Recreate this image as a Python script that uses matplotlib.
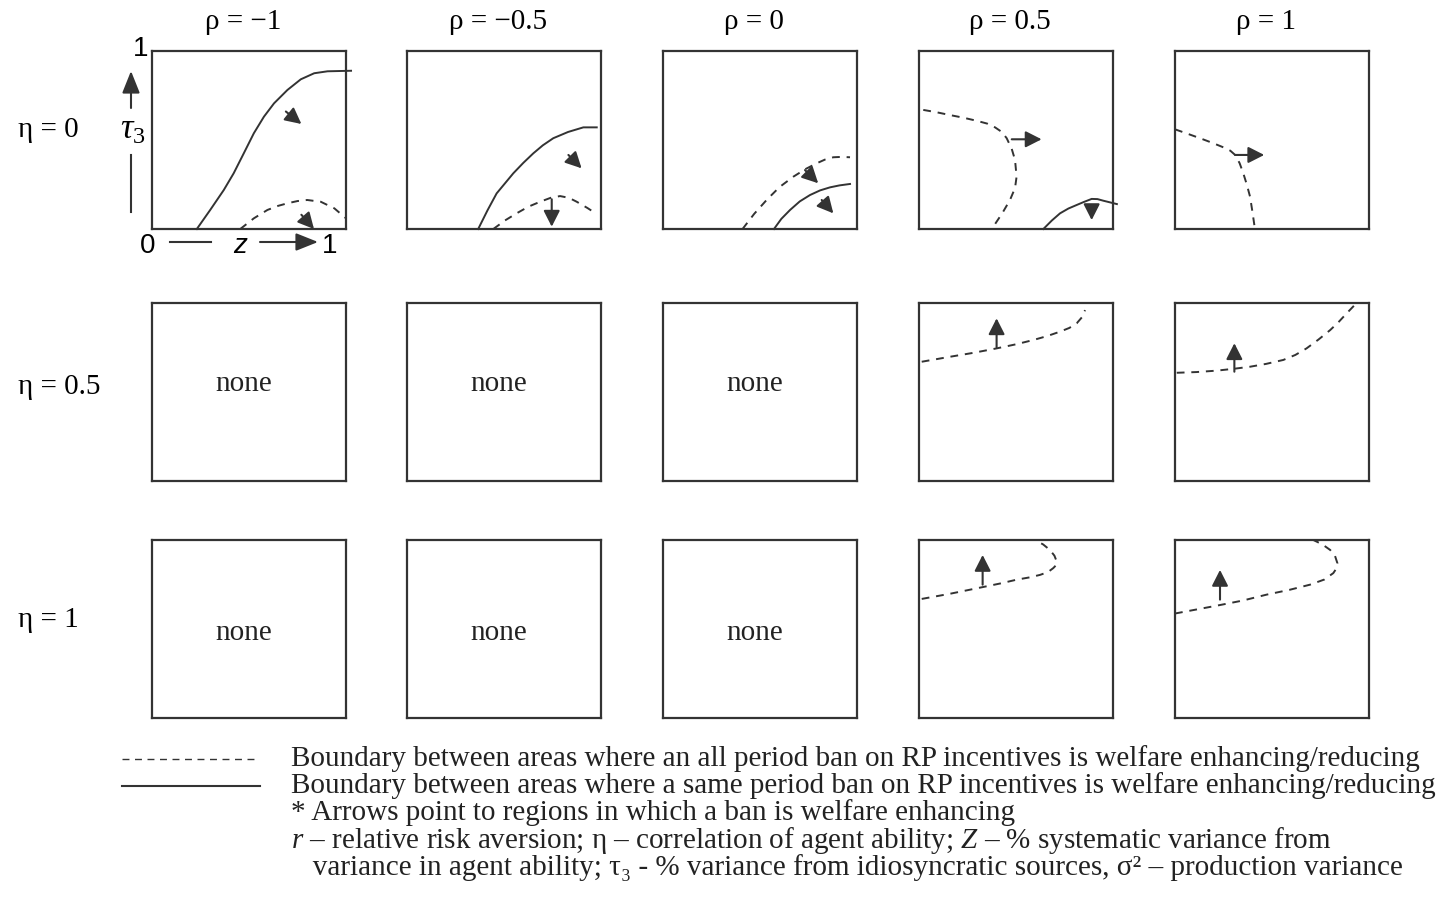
import matplotlib
matplotlib.use('Agg')
import matplotlib.pyplot as plt
from matplotlib.patches import FancyArrowPatch

plt.rcParams['font.family'] = ['Liberation Serif', 'DejaVu Serif']
plt.rcParams['mathtext.fontset'] = 'custom'
plt.rcParams['mathtext.rm'] = 'Liberation Serif'
plt.rcParams['mathtext.it'] = 'Liberation Serif:italic'

W, H = 1454, 916
INK = '#333333'
FS = 21

# column / row labels
rho_labels = ['ρ = −1', 'ρ = −0.5', 'ρ = 0', 'ρ = 0.5', 'ρ = 1']
eta_labels = ['η = 0', 'η = 0.5', 'η = 1']

# boundaries (z, tau3), both 0..1
# eta = 0
s_e0_r1_z = [0.231, 0.30, 0.37, 0.421, 0.473, 0.525, 0.577, 0.629, 0.698, 0.767, 0.836, 0.905, 1.026]
s_e0_r1_t = [0.0, 0.107, 0.219, 0.313, 0.425, 0.538, 0.631, 0.706, 0.781, 0.841, 0.875, 0.886, 0.889]
d_e0_r1_z = [0.455, 0.525, 0.595, 0.65, 0.70, 0.75, 0.80, 0.87, 0.94, 1.0]
d_e0_r1_t = [0.0, 0.06, 0.107, 0.13, 0.145, 0.157, 0.163, 0.153, 0.116, 0.06]

s_e0_r05_z = [0.367, 0.415, 0.462, 0.548, 0.60, 0.651, 0.70, 0.754, 0.83, 0.909, 0.978]
s_e0_r05_t = [0.0, 0.105, 0.20, 0.313, 0.372, 0.425, 0.47, 0.51, 0.545, 0.571, 0.571]
d_e0_r05_z = [0.445, 0.505, 0.565, 0.625, 0.686, 0.74, 0.789, 0.835, 0.875, 0.93, 0.978]
d_e0_r05_t = [0.0, 0.048, 0.088, 0.125, 0.153, 0.175, 0.185, 0.175, 0.153, 0.118, 0.084]

s_e0_r0_z = [0.572, 0.61, 0.655, 0.705, 0.758, 0.81, 0.861, 0.91, 0.964]
s_e0_r0_t = [0.0, 0.057, 0.107, 0.155, 0.191, 0.217, 0.234, 0.245, 0.253]
d_e0_r0_z = [0.41, 0.47, 0.534, 0.60, 0.672, 0.735, 0.792, 0.835, 0.878, 0.92, 0.964]
d_e0_r0_t = [0.0, 0.085, 0.163, 0.235, 0.294, 0.337, 0.369, 0.39, 0.403, 0.405, 0.403]

s_e0_rp05_z = [0.641, 0.685, 0.727, 0.77, 0.813, 0.85, 0.89, 0.92, 0.95, 1.02]
s_e0_rp05_t = [0.0, 0.048, 0.088, 0.115, 0.135, 0.152, 0.169, 0.168, 0.159, 0.14]
d_e0_rp05_z = [0.022, 0.09, 0.16, 0.23, 0.297, 0.352, 0.392, 0.427, 0.452, 0.478, 0.495, 0.503, 0.495, 0.469, 0.43, 0.375]
d_e0_rp05_t = [0.669, 0.656, 0.64, 0.625, 0.608, 0.592, 0.571, 0.545, 0.51, 0.45, 0.388, 0.294, 0.23, 0.163, 0.09, 0.0]

d_e0_rp1_z = [0.0, 0.065, 0.129, 0.19, 0.249, 0.285, 0.31, 0.333, 0.352, 0.37, 0.387, 0.40, 0.412]
d_e0_rp1_t = [0.56, 0.535, 0.51, 0.485, 0.459, 0.44, 0.416, 0.37, 0.313, 0.25, 0.181, 0.09, 0.0]

# eta = 0.5
d_e05_rp05_z = [0.014, 0.16, 0.28, 0.40, 0.50, 0.589, 0.66, 0.727, 0.775, 0.813, 0.84, 0.856]
d_e05_rp05_t = [0.67, 0.698, 0.72, 0.745, 0.768, 0.792, 0.814, 0.839, 0.86, 0.886, 0.92, 0.96]
d_e05_rp1_z = [0.009, 0.11, 0.215, 0.30, 0.387, 0.47, 0.558, 0.62, 0.678, 0.74, 0.80, 0.845, 0.885, 0.936]
d_e05_rp1_t = [0.608, 0.612, 0.62, 0.63, 0.642, 0.658, 0.68, 0.708, 0.745, 0.795, 0.848, 0.895, 0.942, 1.0]

# eta = 1
d_e1_rp05_z = [0.014, 0.16, 0.331, 0.42, 0.503, 0.57, 0.624, 0.665, 0.692, 0.708, 0.71, 0.698, 0.675, 0.64, 0.598]
d_e1_rp05_t = [0.669, 0.698, 0.736, 0.756, 0.777, 0.79, 0.804, 0.82, 0.842, 0.86, 0.879, 0.912, 0.944, 0.975, 1.0]
d_e1_rp1_z = [0.0, 0.215, 0.35, 0.472, 0.59, 0.696, 0.77, 0.816, 0.832, 0.837, 0.825, 0.80, 0.76, 0.713]
d_e1_rp1_t = [0.587, 0.631, 0.66, 0.693, 0.72, 0.749, 0.778, 0.814, 0.84, 0.87, 0.91, 0.944, 0.975, 1.0]

# (row, col, style, z, tau)
curves = [
    (0, 0, '-', s_e0_r1_z, s_e0_r1_t), (0, 0, '--', d_e0_r1_z, d_e0_r1_t),
    (0, 1, '-', s_e0_r05_z, s_e0_r05_t), (0, 1, '--', d_e0_r05_z, d_e0_r05_t),
    (0, 2, '-', s_e0_r0_z, s_e0_r0_t), (0, 2, '--', d_e0_r0_z, d_e0_r0_t),
    (0, 3, '-', s_e0_rp05_z, s_e0_rp05_t), (0, 3, '--', d_e0_rp05_z, d_e0_rp05_t),
    (0, 4, '--', d_e0_rp1_z, d_e0_rp1_t),
    (1, 3, '--', d_e05_rp05_z, d_e05_rp05_t), (1, 4, '--', d_e05_rp1_z, d_e05_rp1_t),
    (2, 3, '--', d_e1_rp05_z, d_e1_rp05_t), (2, 4, '--', d_e1_rp1_z, d_e1_rp1_t),
]

# arrows pointing to welfare-enhancing regions: (row, col, start, end)
arrows = [
    (0, 0, (0.69, 0.66), (0.77, 0.59)), (0, 0, (0.77, 0.08), (0.835, 0.0)),
    (0, 1, (0.832, 0.416), (0.90, 0.341)), (0, 1, (0.746, 0.167), (0.746, 0.013)),
    (0, 2, (0.732, 0.331), (0.80, 0.257)), (0, 2, (0.818, 0.163), (0.878, 0.088)),
    (0, 3, (0.478, 0.504), (0.632, 0.504)), (0, 3, (0.89, 0.135), (0.89, 0.05)),
    (0, 4, (0.309, 0.416), (0.46, 0.416)),
    (1, 3, (0.40, 0.751), (0.40, 0.914)), (1, 4, (0.306, 0.614), (0.306, 0.774)),
    (2, 3, (0.328, 0.749), (0.328, 0.916)), (2, 4, (0.232, 0.665), (0.232, 0.832)),
]

none_panels = [(1, 0), (1, 1), (1, 2), (2, 0), (2, 1), (2, 2)]

legend_lines = [
    'Boundary between areas where an all period ban on RP incentives is welfare enhancing/reducing',
    'Boundary between areas where a same period ban on RP incentives is welfare enhancing/reducing',
    '* Arrows point to regions in which a ban is welfare enhancing',
    '$r$ – relative risk aversion; η – correlation of agent ability; $Z$ – % systematic variance from',
    '   variance in agent ability; τ₃ - % variance from idiosyncratic sources, σ² – production variance',
]

# layout in pixels
col_left = [152, 407, 663, 919, 1175]
row_top = [51, 303, 540]
pw, ph = 194, 178

fig = plt.figure(figsize=(W / 100, H / 100), dpi=100)


def fx(x):
    return x / W


def fy(y):
    return 1 - y / H


axes = {}
for r in range(3):
    for c in range(5):
        ax = fig.add_axes([fx(col_left[c]), fy(row_top[r] + ph), pw / W, ph / H])
        ax.set_xlim(0, 1)
        ax.set_ylim(0, 1)
        ax.set_xticks([])
        ax.set_yticks([])
        for sp in ax.spines.values():
            sp.set_linewidth(1.6)
            sp.set_color(INK)
        axes[(r, c)] = ax

for r, c, ls, z, t in curves:
    ax = axes[(r, c)]
    if ls == '--':
        ax.plot(z, t, color=INK, lw=1.4, linestyle=(0, (4, 3.5)), clip_on=False)
    else:
        ax.plot(z, t, color=INK, lw=1.4, clip_on=False)

for r, c, p0, p1 in arrows:
    axes[(r, c)].annotate('', xy=p1, xytext=p0,
                          arrowprops=dict(arrowstyle='-|>,head_length=0.65,head_width=0.33',
                                          color=INK, lw=1.5, mutation_scale=15,
                                          shrinkA=0, shrinkB=0))

for r, c in none_panels:
    axes[(r, c)].text(0.475, 0.545 if r == 1 else 0.475, 'none', ha='center', va='center',
                      fontsize=FS, color='#222222', transform=axes[(r, c)].transAxes)

# titles
for c, lab in enumerate(rho_labels):
    fig.text(fx(col_left[c] + pw / 2 - 6), fy(22), lab, ha='center', va='center', fontsize=FS)
for r, lab in enumerate(eta_labels):
    fig.text(fx(18), fy([130, 387, 620][r]), lab, ha='left', va='center', fontsize=FS)

# axis key on the first panel
sans = ['Liberation Sans', 'DejaVu Sans']
fig.text(fx(141), fy(49), '1', ha='center', va='center', fontsize=20, family=sans)
fig.text(fx(148), fy(246), '0', ha='center', va='center', fontsize=20, family=sans)
fig.text(fx(240), fy(246), 'z', ha='center', va='center', fontsize=20, family=sans, style='italic')
fig.text(fx(330), fy(246), '1', ha='center', va='center', fontsize=20, family=sans)
fig.text(fx(133), fy(130), r'$\tau_\mathit{3}$', ha='center', va='center', fontsize=25)
fig.add_artist(plt.Line2D([fx(170), fx(211)], [fy(242), fy(242)], color=INK, lw=1.5))
fig.add_artist(plt.Line2D([fx(131), fx(131)], [fy(155), fy(212)], color=INK, lw=1.5))
fig.add_artist(plt.Line2D([fx(122), fx(255)], [fy(759), fy(759)], color=INK, lw=1.0,
                          linestyle=(0, (5, 4))))
fig.add_artist(plt.Line2D([fx(122), fx(260)], [fy(786), fy(786)], color=INK, lw=1.5))
key_arrow = dict(arrowstyle='-|>,head_length=0.75,head_width=0.3', color=INK, lw=1.5,
                 mutation_scale=18, shrinkA=0, shrinkB=0)
fig.add_artist(FancyArrowPatch((fx(260), fy(242)), (fx(318), fy(242)),
                               transform=fig.transFigure, **key_arrow))
fig.add_artist(FancyArrowPatch((fx(131), fy(108)), (fx(131), fy(71)),
                               transform=fig.transFigure, **key_arrow))

# legend text
for i, line in enumerate(legend_lines):
    fig.text(fx(291), fy([759, 786, 813, 840, 868][i]), line, ha='left', va='center',
             fontsize=FS, color='#222222')

fig.savefig('out.png', dpi=100)
